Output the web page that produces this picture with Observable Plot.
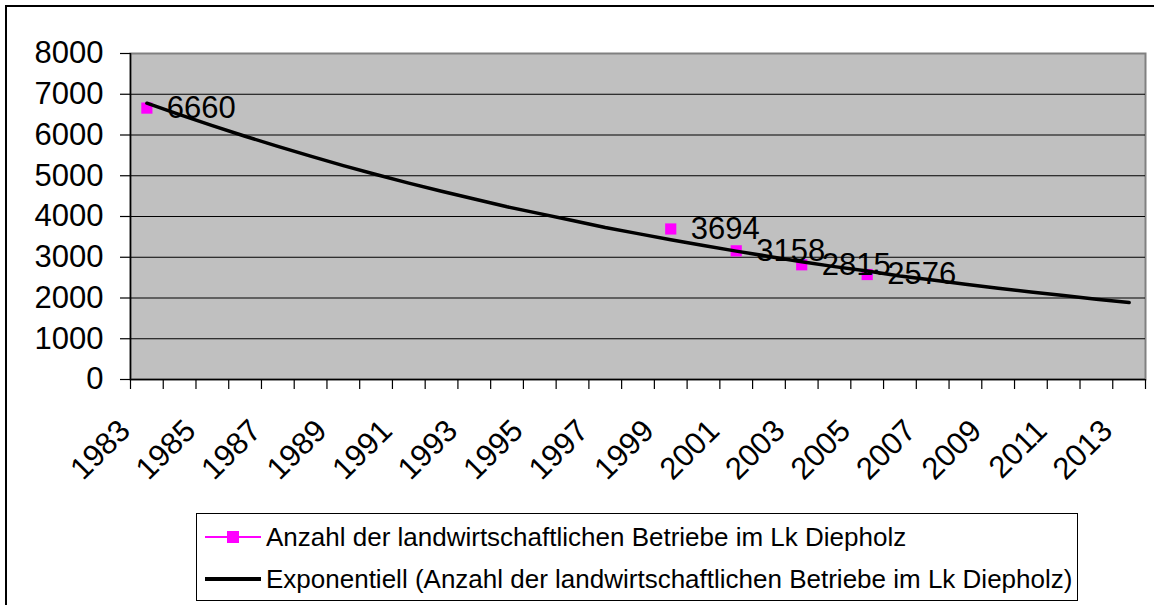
<!DOCTYPE html>
<html>
<head>
<meta charset="utf-8">
<script src="https://cdn.jsdelivr.net/npm/d3@7"></script>
<script src="https://cdn.jsdelivr.net/npm/@observablehq/plot@0.6"></script>
<style>
  html, body { margin: 0; padding: 0; background: #fff; }
  #wrap { position: relative; width: 1154px; height: 605px; overflow: hidden; font-family: "Liberation Sans", Arial, sans-serif; }
  #frame { position: absolute; left: 5px; top: 5px; width: 1300px; height: 800px; border: 2px solid #000; box-sizing: border-box; pointer-events: none; }
  #chart { position: absolute; left: 0; top: 0; }
  #legend { position: absolute; left: 196px; top: 513px; width: 882px; height: 88px; border: 1px solid #000; box-sizing: border-box; background: #fff; }
  .item { position: absolute; left: 0; height: 30px; display: flex; align-items: center; }
  .item svg { margin-left: 8px; }
  .item span { font-size: 26px; color: #000; margin-left: 5px; white-space: nowrap; }
</style>
</head>
<body>
<div id="wrap">
  <div id="chart"></div>
  <div id="legend"></div>
  <div id="frame"></div>
</div>
<script>
// ---- data ----
const years = d3.range(1983, 2014); // categories 1983..2013
const pointYears = [1983, 1999, 2001, 2003, 2005];
const pointValues = [6660, 3694, 3158, 2815, 2576];
// exponential trendline values read per year (1983..2013)
const trendValues = [6780, 6500, 6230, 5970, 5720, 5480, 5250, 5030, 4820, 4620,
                     4430, 4240, 4070, 3900, 3730, 3580, 3430, 3290, 3150, 3020,
                     2890, 2770, 2660, 2540, 2440, 2340, 2240, 2150, 2060, 1970, 1890];
const yTicks = [0, 1000, 2000, 3000, 4000, 5000, 6000, 7000, 8000];
const xLabelYears = years.filter(y => (y - 1983) % 2 === 0);
const seriesName = "Anzahl der landwirtschaftlichen Betriebe im Lk Diepholz";
const trendName = "Exponentiell (Anzahl der landwirtschaftlichen Betriebe im Lk Diepholz)";

const points = pointYears.map((y, i) => ({year: y, value: pointValues[i]}));
const trend = years.map((y, i) => ({year: y, value: trendValues[i]}));
const boundaries = years.map(y => y - 0.5).concat([years[years.length - 1] + 0.5]);

const FONT = 31;
const chart = Plot.plot({
  width: 1154,
  height: 505,
  marginLeft: 130,
  marginRight: 9,
  marginTop: 53,
  marginBottom: 126,
  style: {fontFamily: "'Liberation Sans', Arial, sans-serif", background: "transparent", color: "#000"},
  x: {domain: [years[0] - 0.5, years[years.length - 1] + 0.5], axis: null, label: null},
  y: {domain: [0, 8000], axis: null, label: null},
  marks: [
    Plot.frame({fill: "#c0c0c0", stroke: "#808080", strokeWidth: 2}),
    Plot.ruleY(yTicks.filter(v => v > 0 && v < 8000), {stroke: "#000", strokeWidth: 1.2}),
    Plot.ruleX([years[0] - 0.5], {stroke: "#000", strokeWidth: 1.5}),
    Plot.ruleY([0], {stroke: "#000", strokeWidth: 1.5}),
    Plot.axisY({ticks: yTicks, label: null, tickSize: 10, tickPadding: 17, fontSize: FONT, tickFormat: d => String(d), stroke: "#000", strokeWidth: 1.2}),
    Plot.axisX({ticks: boundaries, label: null, tickSize: 10, tickFormat: () => "", stroke: "#000", strokeWidth: 1.2}),
    Plot.text(xLabelYears, {x: d => d, frameAnchor: "bottom", text: d => String(d), rotate: -45,
      textAnchor: "end", lineAnchor: "middle", dx: -22, dy: 46, fontSize: FONT, fill: "#000"}),
    Plot.dot(points, {x: "year", y: "value", symbol: "square", r: 6.3, fill: "#ff00ff", stroke: "none"}),
    Plot.line(trend, {x: "year", y: "value", stroke: "#000", strokeWidth: 3.5}),
    Plot.text(points, {x: "year", y: "value", text: d => String(d.value), textAnchor: "start", dx: 20, fontSize: FONT, fill: "#000"})
  ]
});
document.getElementById("chart").appendChild(chart);

// legend (HTML, below the plot)
const legend = document.getElementById("legend");
function item(top, symbolSvg, label) {
  const div = document.createElement("div");
  div.className = "item";
  div.style.top = top + "px";
  div.innerHTML = symbolSvg + "<span>" + label + "</span>";
  legend.appendChild(div);
}
item(8, '<svg width="56" height="20"><line x1="0" y1="10" x2="56" y2="10" stroke="#ff00ff" stroke-width="2"/><rect x="22" y="4" width="12" height="12" fill="#ff00ff"/></svg>', seriesName);
item(50, '<svg width="56" height="20"><line x1="0" y1="10" x2="56" y2="10" stroke="#000" stroke-width="4"/></svg>', trendName);
</script>
</body>
</html>
